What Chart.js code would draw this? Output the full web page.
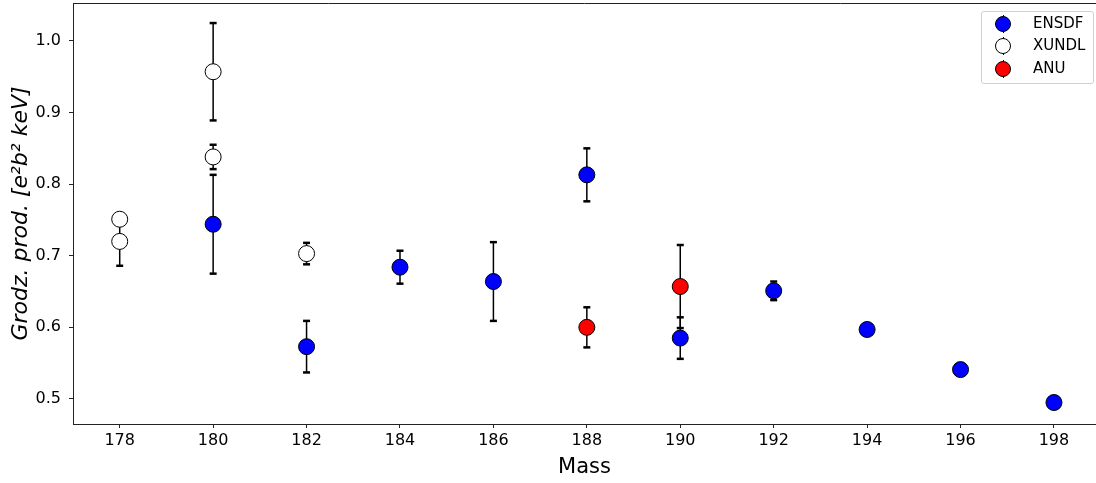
<!DOCTYPE html>
<html>
<head>
<meta charset="utf-8">
<script src="https://cdn.jsdelivr.net/npm/chart.js@4"></script>
<style>
  html, body { margin: 0; padding: 0; background: #fff; }
  #wrap { position: relative; width: 1096px; height: 483px; }
  #legend {
    position: absolute; left: 981px; top: 11px; width: 111px; height: 71px;
    border: 1px solid #d0d0d0; border-radius: 3px; background: rgba(255,255,255,0.8);
    font-family: "DejaVu Sans", sans-serif; font-size: 15px; color: #000;
  }
  .lg-row { position: absolute; left: 0; height: 20px; width: 100%; }
  .lg-bar { position: absolute; left: 20.5px; top: 1px; width: 1.5px; height: 18px; background: #000; }
  .lg-dot { position: absolute; left: 13px; top: 2px; width: 14px; height: 14px; border: 1px solid #000; border-radius: 50%; }
  .lg-txt { position: absolute; left: 51px; top: 0px; line-height: 19px; }
</style>
</head>
<body>
<div id="wrap">
  <canvas id="chart" width="1096" height="483"></canvas>
  <div id="legend"></div>
</div>
<script>
// ───── Grodzins product vs mass ─────────────────────────────────────────────
// Values; err = symmetric 1σ half-width (0 = no bar).

const X_TICKS = [178, 180, 182, 184, 186, 188, 190, 192, 194, 196, 198];
const Y_TICKS = [0.5, 0.6, 0.7, 0.8, 0.9, 1.0];

const ENSDF_MASS = [180, 182, 184, 186, 188, 190, 192, 194, 196, 198];
const ENSDF_VAL  = [0.744, 0.573, 0.684, 0.664, 0.813, 0.585, 0.651, 0.597, 0.541, 0.495];
const ENSDF_ERR  = [0.069, 0.036, 0.023, 0.055, 0.037, 0.029, 0.013, 0, 0, 0];

const XUNDL_MASS = [178, 178, 180, 180, 182];
const XUNDL_VAL  = [0.751, 0.720, 0.957, 0.838, 0.703];
const XUNDL_ERR  = [0, 0.034, 0.068, 0.017, 0.015];

const ANU_MASS = [188, 190];
const ANU_VAL  = [0.600, 0.657];
const ANU_ERR  = [0.028, 0.058];

const SERIES = [
  { label: 'ENSDF', mass: ENSDF_MASS, val: ENSDF_VAL, err: ENSDF_ERR, color: '#0000ff' },
  { label: 'XUNDL', mass: XUNDL_MASS, val: XUNDL_VAL, err: XUNDL_ERR, color: '#ffffff' },
  { label: 'ANU',   mass: ANU_MASS,   val: ANU_VAL,   err: ANU_ERR,   color: '#ff0000' },
];

const FONT = '"DejaVu Sans", sans-serif';

function _errLine(s) {
  // vertical segments, broken by null points
  const pts = [];
  s.mass.forEach((m, i) => {
    if (!s.err[i]) return;
    pts.push({ x: m, y: s.val[i] - s.err[i] }, { x: m, y: s.val[i] + s.err[i] }, { x: m, y: null });
  });
  return pts;
}

function _errCaps(s) {
  const pts = [];
  s.mass.forEach((m, i) => {
    if (!s.err[i]) return;
    pts.push({ x: m, y: s.val[i] - s.err[i] }, { x: m, y: s.val[i] + s.err[i] });
  });
  return pts;
}

const datasets = [];
SERIES.forEach((s, k) => {
  datasets.push({
    label: s.label,
    data: s.mass.map((m, i) => ({ x: m, y: s.val[i] })),
    backgroundColor: s.color,
    borderColor: '#000',
    borderWidth: 1,
    pointRadius: 8,
    pointHoverRadius: 8,
    order: 3 - k,
  });
  datasets.push({
    label: s.label + ' err',
    data: _errLine(s),
    showLine: true,
    spanGaps: false,
    borderColor: '#000',
    borderWidth: 1.5,
    pointRadius: 0,
    order: 10,
  });
  datasets.push({
    label: s.label + ' caps',
    data: _errCaps(s),
    pointStyle: 'line',
    pointRadius: 3.5,
    pointHoverRadius: 3.5,
    borderColor: '#000',
    borderWidth: 2.5,
    order: 10,
  });
});

const topSpine = {
  id: 'topSpine',
  beforeDatasetsDraw(chart) {
    const { ctx, chartArea } = chart;
    ctx.save();
    ctx.strokeStyle = '#222';
    ctx.lineWidth = 1;
    ctx.beginPath();
    ctx.moveTo(chartArea.left, chartArea.top + 0.5);
    ctx.lineTo(chartArea.right, chartArea.top + 0.5);
    ctx.stroke();
    ctx.restore();
  },
};

new Chart(document.getElementById('chart'), {
  type: 'scatter',
  data: { datasets },
  plugins: [topSpine],
  options: {
    responsive: false,
    animation: false,
    events: [],
    layout: { autoPadding: false, padding: { left: 0, right: 0, top: 3, bottom: 0 } },
    plugins: { legend: { display: false }, tooltip: { enabled: false } },
    scales: {
      x: {
        type: 'linear',
        min: 177,
        max: 198.9,
        afterBuildTicks(scale) { scale.ticks = X_TICKS.map((value) => ({ value })); },
        afterFit(scale) { scale.height = 59; scale.paddingLeft = 0; scale.paddingRight = 0; },
        ticks: { color: '#000', font: { family: FONT, size: 16 }, padding: 3, callback: (v) => String(v) },
        grid: { drawOnChartArea: false, tickLength: 4, color: '#222' },
        border: { display: true, color: '#222', width: 1 },
        title: { display: true, text: 'Mass', color: '#000', font: { family: FONT, size: 21 }, padding: { top: 4, bottom: 3 } },
      },
      y: {
        type: 'linear',
        min: 0.465,
        max: 1.053,
        afterBuildTicks(scale) { scale.ticks = Y_TICKS.map((value) => ({ value })); },
        afterFit(scale) { scale.width = 73; scale.paddingTop = 0; scale.paddingBottom = 0; },
        ticks: { color: '#000', font: { family: FONT, size: 16 }, padding: 8, callback: (v) => v.toFixed(1) },
        grid: { drawOnChartArea: false, tickLength: 4, color: '#222' },
        border: { display: true, color: '#222', width: 1 },
        title: {
          display: true, text: 'Grodz. prod. [e²b² keV]', color: '#000',
          font: { family: FONT, size: 22, style: 'italic' }, padding: { top: 8, bottom: 4 },
        },
      },
    },
  },
});

// Legend, drawn as HTML in the top-right corner of the axes
const legend = document.getElementById('legend');
SERIES.forEach((s, k) => {
  const row = document.createElement('div');
  row.className = 'lg-row';
  row.style.top = `${2 + k * 22.3}px`;
  row.innerHTML = `<div class="lg-bar"></div><div class="lg-dot" style="background:${s.color}"></div><div class="lg-txt">${s.label}</div>`;
  legend.appendChild(row);
});
</script>
</body>
</html>
